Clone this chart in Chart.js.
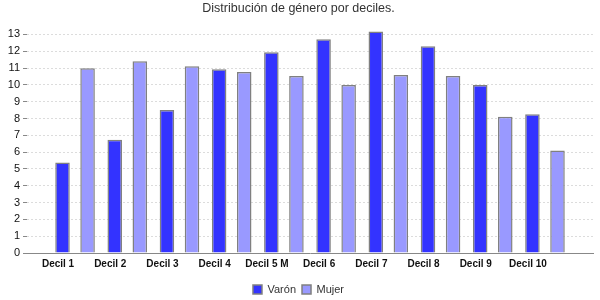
<!DOCTYPE html>
<html lang="es">
<head>
    <meta charset="UTF-8">
    <title>Distribución de género por deciles</title>
    <script src="https://cdn.jsdelivr.net/npm/chart.js"></script>
    <style>
        body { margin: 0; background: #ffffff; }
        #wrap { width: 600px; height: 300px; }
    </style>
</head>
<body>
    <div id="wrap"><canvas id="chart"></canvas></div>

    <script>
        // Data
        const deciles = ['Decil 1', 'Decil 2', 'Decil 3', 'Decil 4', 'Decil 5 M',
                         'Decil 6', 'Decil 7', 'Decil 8', 'Decil 9', 'Decil 10'];
        const varon = [5.38, 6.74, 8.51, 10.93, 11.94, 12.71, 13.18, 12.29, 9.99, 8.25];
        const mujer = [10.99, 11.41, 11.11, 10.77, 10.52, 9.99, 10.58, 10.52, 8.10, 6.10];
        const yTicks = [0, 1, 2, 3, 4, 5, 6, 7, 8, 9, 10, 11, 12, 13];

        // category axis with an extra empty margin at both ends
        class MarginCategoryScale extends Chart.CategoryScale {
            buildTicks() {
                const ticks = super.buildTicks();
                const m = 0.42;
                this._startValue -= m;
                this._valueRange += 2 * m;
                return ticks;
            }
        }
        MarginCategoryScale.id = 'marginCategory';
        MarginCategoryScale.defaults = Chart.CategoryScale.defaults;
        Chart.register(MarginCategoryScale);

        Chart.defaults.font.family = '"Liberation Sans", Arial, sans-serif';
        Chart.defaults.color = '#333';

        new Chart(document.getElementById('chart'), {
            type: 'bar',
            data: {
                labels: deciles,
                datasets: [{
                    label: 'Varón',
                    data: varon,
                    backgroundColor: '#3333ff',
                    borderColor: '#808080',
                    borderWidth: 1.5
                }, {
                    label: 'Mujer',
                    data: mujer,
                    backgroundColor: '#9999ff',
                    borderColor: '#808080',
                    borderWidth: 1.5
                }]
            },
            options: {
                responsive: true,
                maintainAspectRatio: false,
                animation: false,
                categoryPercentage: 0.96,
                barPercentage: 0.58,
                layout: { padding: { left: 4, right: 7, top: 0, bottom: -5 } },
                plugins: {
                    title: {
                        display: true,
                        text: 'Distribución de género por deciles.',
                        color: '#333',
                        font: { size: 12.5, weight: 'normal' },
                        padding: { top: 1, bottom: 10 }
                    },
                    legend: {
                        position: 'bottom',
                        labels: {
                            boxWidth: 9,
                            boxHeight: 9,
                            padding: 6,
                            color: '#333',
                            font: { size: 11 }
                        }
                    },
                    tooltip: { enabled: false }
                },
                scales: {
                    x: {
                        type: 'marginCategory',
                        grid: { display: false, drawTicks: false },
                        border: { display: true, color: '#888', width: 1 },
                        ticks: {
                            color: '#111',
                            labelOffset: -17,
                            padding: 5,
                            maxRotation: 0,
                            autoSkip: false,
                            font: { size: 10, weight: 'bold' }
                        },
                        afterFit: s => { s.height = 25; }
                    },
                    y: {
                        min: 0,
                        max: 13.5,
                        grid: {
                            color: '#dcdcdc',
                            tickColor: '#888',
                            tickLength: 4
                        },
                        border: { display: false, dash: [2, 2] },
                        afterBuildTicks: s => {
                            s.ticks = yTicks.map(v => ({ value: v }));
                        },
                        ticks: {
                            color: '#111',
                            padding: 3,
                            font: { size: 11 }
                        },
                        afterFit: s => { s.width = 23; }
                    }
                }
            }
        });
    </script>
</body>
</html>
